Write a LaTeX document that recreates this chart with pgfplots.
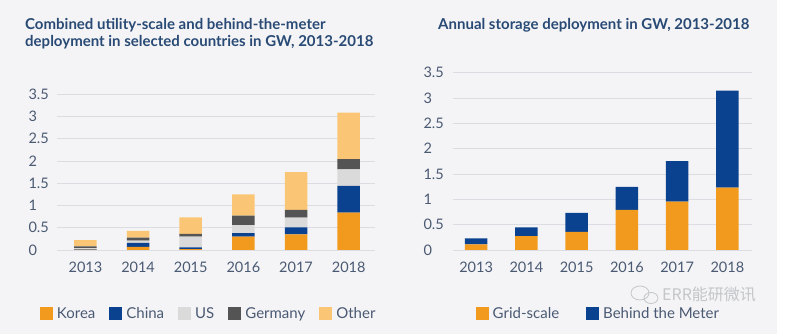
\documentclass[border=0pt]{standalone}
\usepackage{pgfplots}
\pgfplotsset{compat=1.18}
\usepackage{fontspec}
\setmainfont{Lato}
\newfontfamily\cjk{Noto Sans CJK SC}
\definecolor{bg}{HTML}{F4F4F6}
\definecolor{titlecol}{HTML}{284A75}
\definecolor{tickcol}{HTML}{4A5A73}
\definecolor{gridcol}{HTML}{DCDDE2}
\definecolor{korea}{HTML}{F29A1D}
\definecolor{china}{HTML}{0B4290}
\definecolor{us}{HTML}{DADADA}
\definecolor{germany}{HTML}{545454}
\definecolor{other}{HTML}{FAC676}
\definecolor{wm}{HTML}{C4C6CA}
\pgfplotsset{
  base/.style={
    scale only axis,
    anchor=south west,
    ymin=0, ymax=3.5,
    ytick={0,0.5,1,1.5,2,2.5,3,3.5},
    xtick={0,1,2,3,4,5},
    xticklabels={2013,2014,2015,2016,2017,2018},
    ybar stacked,
    bar width=22.5pt,
    axis line style={draw=none},
    major tick length=0pt,
    tick style={draw=none},
    ymajorgrids,
    grid style={gridcol, line width=0.8pt},
    /pgf/number format/assume math mode=true,
    ticklabel style={font=\fontsize{14.5}{16}\selectfont, text=tickcol},
    xticklabel style={yshift=-8pt},
    legend image code/.code={\fill[##1] (0pt,-6.5pt) rectangle (13pt,6.5pt);},
    legend style={draw=none, fill=none, inner sep=0pt, outer sep=0pt,
      font=\fontsize{15}{17}\selectfont, text=tickcol,
      legend columns=-1,
      nodes={inner xsep=2pt, inner ysep=0pt},
      /tikz/every odd column/.append style={column sep=2pt}},
  }
}
\begin{document}
\begin{tikzpicture}[x=1pt,y=1pt]
\path[use as bounding box] (0,0) rectangle (800,334);
\fill[bg] (0,0) rectangle (777,334);
\fill[white] (777,0) rectangle (800,334);
\node[anchor=base west, inner sep=0pt, font=\bfseries\fontsize{15}{17}\selectfont, text=titlecol] at (25,304) {Combined utility-scale and behind-the-meter};
\node[anchor=base west, inner sep=0pt, font=\bfseries\fontsize{15}{17}\selectfont, text=titlecol] at (25,287.5) {deployment in selected countries in GW, 2013-2018};
\node[anchor=base west, inner sep=0pt, font=\bfseries\fontsize{15}{17}\selectfont, text=titlecol] at (438,304) {Annual storage deployment in GW, 2013-2018};

\begin{axis}[base,
  at={(57pt,84pt)}, width=318pt, height=155.7pt,
  xmin=-0.54, xmax=5.5,
  yticklabel style={anchor=west, xshift=-32pt},
  legend style={at={(-0.0535,-0.411)}, anchor=west,
    /tikz/every even column/.append style={column sep=12pt}},
]
\addplot[fill=korea, draw=none] coordinates {(0,0.01) (1,0.07) (2,0.02) (3,0.30) (4,0.35) (5,0.84)};
\addplot[fill=china, draw=none] coordinates {(0,0.01) (1,0.09) (2,0.04) (3,0.08) (4,0.16) (5,0.60)};
\addplot[fill=us, draw=none] coordinates {(0,0.02) (1,0.05) (2,0.24) (3,0.18) (4,0.22) (5,0.37)};
\addplot[fill=germany, draw=none] coordinates {(0,0.04) (1,0.07) (2,0.06) (3,0.21) (4,0.17) (5,0.23)};
\addplot[fill=other, draw=none] coordinates {(0,0.14) (1,0.15) (2,0.375) (3,0.48) (4,0.85) (5,1.05)};
\legend{Korea,China,US,Germany,Other}
\end{axis}

\begin{axis}[base,
  at={(453pt,84pt)}, width=299pt, height=177.3pt,
  xmin=-0.46, xmax=5.49,
  yticklabel style={anchor=west, xshift=-33pt},
  legend style={at={(0.076,-0.358)}, anchor=west,
    /tikz/every even column/.append style={column sep=25pt}},
]
\addplot[fill=korea, draw=none] coordinates {(0,0.11) (1,0.275) (2,0.36) (3,0.79) (4,0.955) (5,1.23)};
\addplot[fill=china, draw=none] coordinates {(0,0.12) (1,0.17) (2,0.375) (3,0.455) (4,0.80) (5,1.915)};
\legend{Grid-scale,Behind the Meter}
\end{axis}

\draw[wm, line width=0.8pt] (640,41) ellipse (9 and 7);
\draw[wm, line width=0.8pt] (651,36) ellipse (7 and 5.5);
\node[anchor=west, inner sep=0pt, font=\cjk\fontsize{16}{18}\selectfont, text=wm] at (662,39) {ERR能研微讯};
\end{tikzpicture}
\end{document}
